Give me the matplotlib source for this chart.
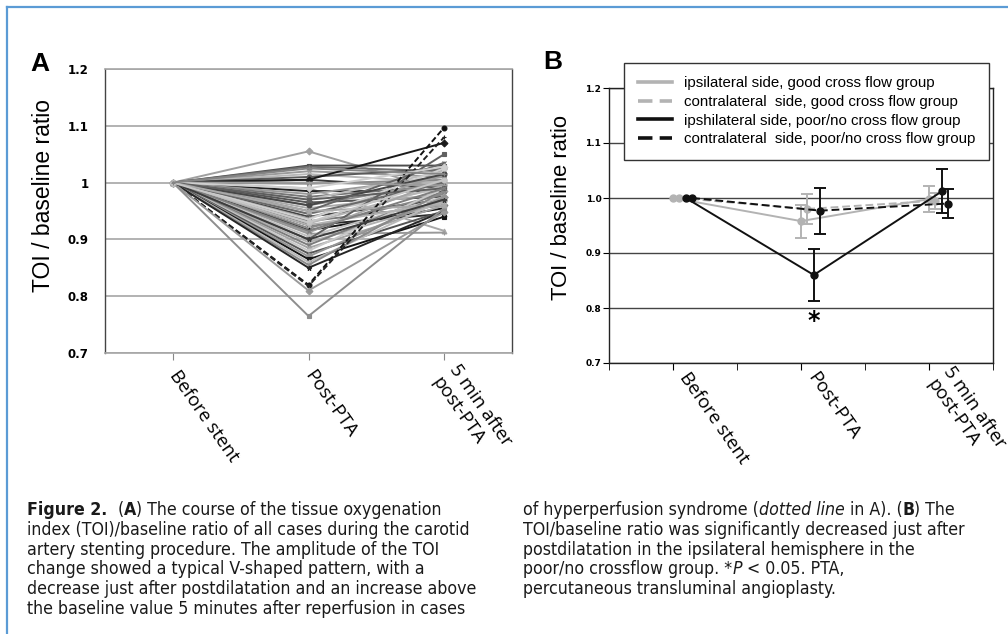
import numpy as np
import matplotlib
matplotlib.use("Agg")
import matplotlib.pyplot as plt
from matplotlib import font_manager
from matplotlib import transforms
from matplotlib.lines import Line2D

# ---- data -------------------------------------------------------------
stages = ["Before stent", "Post-PTA", "5 min after\npost-PTA"]
baseline = 1.0

# panel A: TOI/baseline ratio of each case (before stent is 1 by definition)
post_ratio = [1.055, 1.030, 1.028, 1.020, 1.015, 1.010, 1.005, 1.005, 0.998, 0.990,
              0.985, 0.980, 0.975, 0.970, 0.965, 0.960, 0.955, 0.950, 0.945, 0.940,
              0.937, 0.932, 0.928, 0.925, 0.920, 0.916, 0.912, 0.910, 0.905, 0.900,
              0.895, 0.890, 0.885, 0.880, 0.875, 0.870, 0.865, 0.860, 0.855, 0.850,
              0.820, 0.818, 0.810, 0.765, 0.935, 0.945, 0.925, 0.960, 1.000, 0.990,
              0.970, 0.950, 0.915, 0.900, 0.930, 1.025]
five_ratio = [0.985, 1.030, 1.020, 1.010, 1.000, 1.025, 0.990, 1.070, 1.005, 0.915,
              0.985, 1.010, 0.995, 1.020, 0.975, 1.000, 0.980, 1.035, 0.990, 0.970,
              1.015, 0.960, 0.995, 0.945, 0.980, 0.955, 1.005, 0.912, 0.975, 1.050,
              0.965, 0.985, 0.960, 0.990, 0.950, 0.975, 0.940, 0.970, 0.985, 0.950,
              1.097, 1.080, 0.948, 0.955, 1.025, 1.000, 0.965, 1.015, 0.995, 1.028,
              0.990, 0.960, 0.990, 0.970, 1.005, 1.015]
hyper_cases = [40, 41]   # hyperperfusion syndrome (dotted lines)

# panel B: group means and error bars
series_labels = ["ipsilateral side, good cross flow group",
                 "contralateral  side, good cross flow group",
                 "ipshilateral side, poor/no cross flow group",
                 "contralateral  side, poor/no cross flow group"]
ipsi_good = [1.0, 0.958, 0.998]
contra_good = [1.0, 0.980, 0.995]
ipsi_poor = [1.0, 0.860, 1.012]
contra_poor = [1.0, 0.977, 0.990]
ipsi_good_err = [0.030, 0.024]
contra_good_err = [0.027, 0.015]
ipsi_poor_err = [0.047, 0.040]
contra_poor_err = [0.042, 0.027]

# line shade of each case in panel A
case_grays = ["#a0a0a0", "#4d4d4d", "#6e6e6e", "#9a9a9a", "#b8b8b8", "#5a5a5a",
              "#3a3a3a", "#1a1a1a", "#8a8a8a", "#a8a8a8", "#222222", "#999999",
              "#777777", "#bdbdbd", "#555555", "#8c8c8c", "#aaaaaa", "#666666",
              "#c4c4c4", "#444444", "#9e9e9e", "#7a7a7a", "#b5b5b5", "#2a2a2a",
              "#888888", "#151515", "#a5a5a5", "#999999", "#c0c0c0", "#606060",
              "#b0b0b0", "#7c7c7c", "#a3a3a3", "#c8c8c8", "#555555", "#959595",
              "#151515", "#bababa", "#8a8a8a", "#262626", "#111111", "#222222",
              "#9a9a9a", "#8e8e8e", "#d0d0d0", "#6a6a6a", "#b2b2b2", "#474747",
              "#9c9c9c", "#cfcfcf", "#5f5f5f", "#a9a9a9", "#7f7f7f", "#3c3c3c",
              "#c6c6c6", "#858585"]

# ---- fonts --------------------------------------------------------------
fl = font_manager.fontManager.ttflist
names = {f.name for f in fl}
if "Liberation Sans Narrow" in names:
    cap_kw = {"family": "Liberation Sans Narrow"}
    cap_size = 13
elif any(f.name == "DejaVu Sans" and f.stretch == "condensed" for f in fl):
    cap_kw = {"family": "DejaVu Sans", "fontstretch": "condensed"}
    cap_size = 12.7
else:
    cap_kw = {"family": "DejaVu Sans"}
    cap_size = 11.1
plt.rcParams["font.family"] = ["Liberation Sans", "DejaVu Sans"]

fig = plt.figure(figsize=(10.08, 6.34), dpi=100)
W, H = 1008.0, 634.0

# blue frame (top and left)
fig.add_artist(Line2D([7 / W, 1.0], [1 - 7 / H, 1 - 7 / H], color="#5b9bd5", lw=1.6))
fig.add_artist(Line2D([7 / W, 7 / W], [1 - 7 / H, 0.0], color="#5b9bd5", lw=1.6))

# ---- panel A ------------------------------------------------------------
axA = fig.add_axes([105 / W, 1 - 353 / H, 407 / W, 284 / H])
marks = ["D", "s", "^", "x", "*", "o", "+"]
xA = np.arange(len(stages))
for i, (p, f) in enumerate(zip(post_ratio, five_ratio)):
    c = case_grays[i]
    ls = (0, (3, 1.5)) if i in hyper_cases else "-"
    axA.plot(xA, [baseline, p, f], color=c, ls=ls, lw=1.4,
             marker=marks[i % len(marks)], ms=3.5, mfc=c, mec=c, mew=0.8)

axA.set_xlim(-0.5, 2.5)
axA.set_ylim(0.7, 1.2)
axA.set_yticks([0.7, 0.8, 0.9, 1.0, 1.1, 1.2])
axA.set_yticklabels(["{:g}".format(v) for v in [0.7, 0.8, 0.9, 1.0, 1.1, 1.2]],
                    fontsize=8.5, fontweight="bold", family="DejaVu Sans")
axA.yaxis.grid(True, color="#a6a6a6", lw=1.2)
axA.set_axisbelow(True)
axA.tick_params(axis="y", length=0, pad=12)
axA.set_xticks(xA)
axA.set_xticklabels(stages, rotation=-55, ha="left", va="center",
                    rotation_mode="anchor", fontsize=13.5, family="Open Sans")
axA.tick_params(axis="x", length=5, color="#888888", direction="out", pad=9)
for s in ["top", "bottom"]:
    axA.spines[s].set_color("#a6a6a6")
    axA.spines[s].set_linewidth(1.2)
for s in ["left", "right"]:
    axA.spines[s].set_color("#444444")
    axA.spines[s].set_linewidth(1.0)
axA.set_ylabel("TOI / baseline ratio", fontsize=16.5)
axA.yaxis.set_label_coords(-0.123, 0.553)
fig.text(30 / W, 1 - 64 / H, "A", fontsize=19, fontweight="bold", va="center")

# ---- panel B ------------------------------------------------------------
axB = fig.add_axes([609 / W, 1 - 363 / H, 384 / W, 275 / H])
xB = np.array([1, 2, 3])
groups = [(ipsi_good, ipsi_good_err, "#b3b3b3", "-", 0.0),
          (contra_good, contra_good_err, "#b3b3b3", (0, (4, 2)), 0.05),
          (ipsi_poor, ipsi_poor_err, "#111111", "-", 0.10),
          (contra_poor, contra_poor_err, "#111111", (0, (4, 2)), 0.15)]
handles = []
for vals, err, c, ls, off in groups:
    axB.plot(xB + off, vals, color=c, ls=ls, lw=1.4, marker="o", ms=5, mfc=c, mec=c)
    axB.errorbar(xB[1:] + off, vals[1:], yerr=err, fmt="none", ecolor=c,
                 elinewidth=1.4, capsize=4, capthick=1.4)
    handles.append(Line2D([], [], color=c, ls=ls, lw=2.6))

axB.text(2.1, 0.764, "*", ha="center", va="baseline", fontsize=17,
         fontweight="bold", family="DejaVu Sans")
axB.set_xlim(0.5, 3.5)
axB.set_ylim(0.7, 1.2)
axB.set_yticks([0.7, 0.8, 0.9, 1.0, 1.1, 1.2])
axB.set_yticklabels(["{:.1f}".format(v) for v in [0.7, 0.8, 0.9, 1.0, 1.1, 1.2]],
                    fontsize=6.5, fontweight="bold", family="DejaVu Sans")
axB.yaxis.grid(True, color="#444444", lw=1.0)
axB.set_axisbelow(True)
axB.tick_params(axis="y", length=4, direction="out", pad=1.5)
axB.set_xticks(xB)
axB.set_xticks([0.5, 1.5, 2.5, 3.5], minor=True)
axB.set_xticklabels(stages, rotation=-55, ha="left", va="center",
                    rotation_mode="anchor", fontsize=13.5, family="Open Sans")
axB.tick_params(axis="x", which="both", length=5, direction="out", pad=9)
shift = transforms.ScaledTranslation(10 / 100, 8 / 100, fig.dpi_scale_trans)
for lab in axB.get_xticklabels():
    lab.set_transform(lab.get_transform() + shift)
for s in axB.spines.values():
    s.set_color("#222222")
    s.set_linewidth(1.0)
axB.set_ylabel("TOI / baseline ratio", fontsize=15.8)
axB.yaxis.set_label_coords(-0.096, 0.564)
fig.text(543 / W, 1 - 62 / H, "B", fontsize=19, fontweight="bold", va="center")

fig.legend(handles, series_labels, loc="upper left",
           bbox_to_anchor=(624 / W, 1 - 63 / H), fontsize=10.8, frameon=True,
           fancybox=False, edgecolor="#333333", framealpha=1, handlelength=2.3,
           handletextpad=0.8, labelspacing=0.3, borderpad=0.9, borderaxespad=0)

# ---- caption -------------------------------------------------------------
renderer = fig.canvas.get_renderer()


def text_w(s, **kw):
    t = fig.text(0, 0, s, fontsize=cap_size, **cap_kw, **kw)
    w = t.get_window_extent(renderer).width
    t.remove()
    return w


space_w = text_w("x x") - text_w("xx")


def caption_line(x_px, y_px, parts):
    x = x_px
    for s, kw in parts:
        if s == " ":
            x += space_w
            continue
        t = fig.text(x / W, 1 - y_px / H, s, fontsize=cap_size, color="#1a1a1a",
                     va="center", **cap_kw, **kw)
        x += t.get_window_extent(renderer).width


B = {"fontweight": "bold"}
I = {"fontstyle": "italic"}
N = {}
left_lines = [
    [("Figure 2.", B), (" ", N), (" ", N), ("(", N), ("A", B),
     (") The course of the tissue oxygenation", N)],
    [("index (TOI)/baseline ratio of all cases during the carotid", N)],
    [("artery stenting procedure. The amplitude of the TOI", N)],
    [("change showed a typical V-shaped pattern, with a", N)],
    [("decrease just after postdilatation and an increase above", N)],
    [("the baseline value 5 minutes after reperfusion in cases", N)],
]
right_lines = [
    [("of hyperperfusion syndrome (", N), ("dotted line", I), (" ", N),
     ("in A). (", N), ("B", B), (") The", N)],
    [("TOI/baseline ratio was significantly decreased just after", N)],
    [("postdilatation in the ipsilateral hemisphere in the", N)],
    [("poor/no crossflow group. *", N), ("P", I), (" ", N), ("< 0.05. PTA,", N)],
    [("percutaneous transluminal angioplasty.", N)],
]
for k, parts in enumerate(left_lines):
    caption_line(27, 510 + 19.8 * k, parts)
for k, parts in enumerate(right_lines):
    caption_line(523, 510 + 19.8 * k, parts)

fig.savefig("out.png", dpi=100)
